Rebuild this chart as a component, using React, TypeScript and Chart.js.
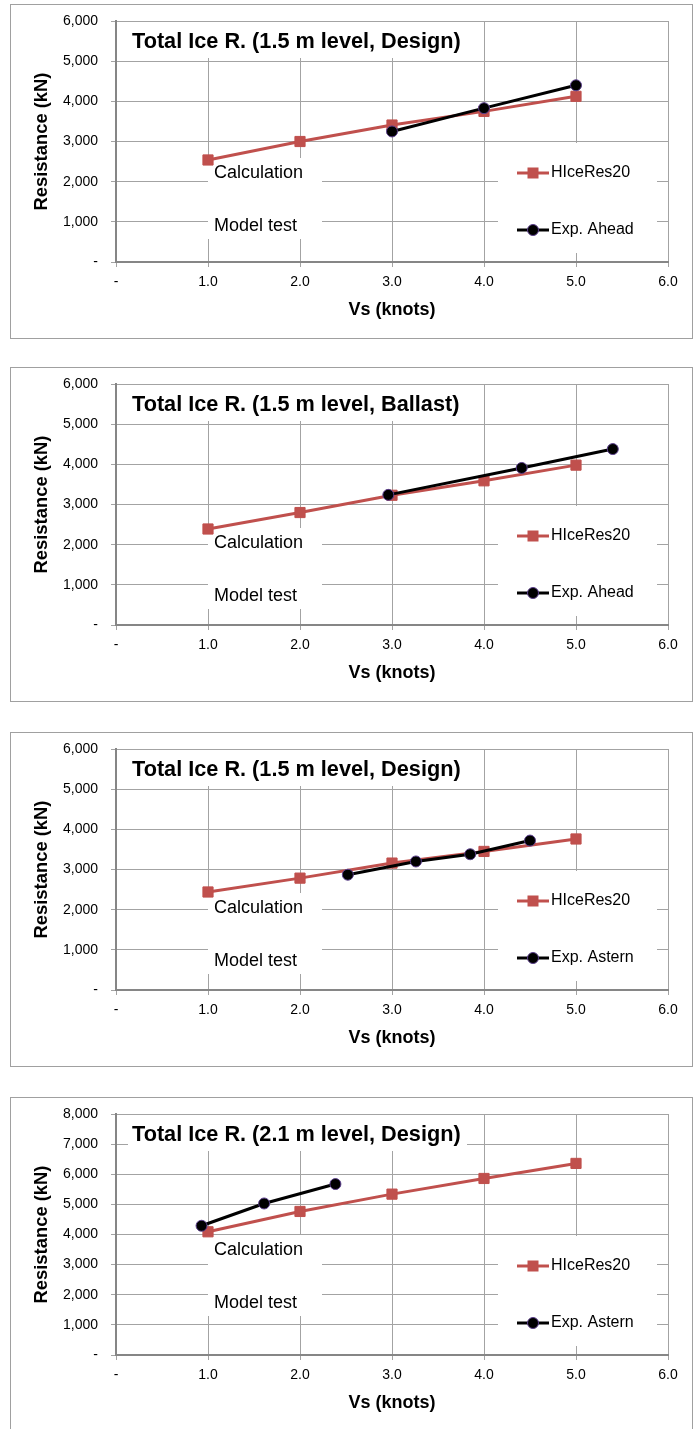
import React, { useEffect, useRef } from 'react';
import { Chart, registerables } from 'chart.js';

Chart.register(...registerables);

// ---------- data ----------
const calcSpeeds = [1, 2, 3, 4, 5];

// Chart 1: 1.5 m level, Design, ahead
const calcDesignAhead = [2540, 3000, 3410, 3750, 4125];
const expDesignAheadX = [3.0, 4.0, 5.0];
const expDesignAheadY = [3250, 3830, 4400];

// Chart 2: 1.5 m level, Ballast, ahead
const calcBallastAhead = [2390, 2800, 3230, 3590, 3980];
const expBallastAheadX = [2.96, 4.41, 5.4];
const expBallastAheadY = [3240, 3910, 4380];

// Chart 3: 1.5 m level, Design, astern
const calcDesignAstern = [2440, 2785, 3160, 3450, 3760];
const expDesignAsternX = [2.52, 3.26, 3.85, 4.5];
const expDesignAsternY = [2870, 3200, 3380, 3720];

// Chart 4: 2.1 m level, Design, astern
const calcDesign21Astern = [4090, 4765, 5340, 5860, 6360];
const expDesign21AsternX = [0.93, 1.61, 2.385];
const expDesign21AsternY = [4290, 5030, 5675];

const titles = [
  'Total Ice R. (1.5 m level, Design)',
  'Total Ice R. (1.5 m level, Ballast)',
  'Total Ice R. (1.5 m level, Design)',
  'Total Ice R. (2.1 m level, Design)',
];
const calcLabel = 'HIceRes20';
const expLabels = ['Exp. Ahead', 'Exp. Ahead', 'Exp. Astern', 'Exp. Astern'];
const yMaxes = [6000, 6000, 6000, 8000];
const xAxisTitle = 'Vs (knots)';
const yAxisTitle = 'Resistance (kN)';
const noteTexts = ['Calculation', 'Model test'];

const RED = '#C0504D';
const FONT = '"Liberation Sans", Arial, sans-serif';

interface Panel {
  title: string;
  yMax: number;
  calc: number[];
  expX: number[];
  expY: number[];
  expLabel: string;
  noteY: number; // relative to chart-area top
  boxTop: number;
}

const panels: Panel[] = [
  { title: titles[0], yMax: yMaxes[0], calc: calcDesignAhead, expX: expDesignAheadX, expY: expDesignAheadY, expLabel: expLabels[0], noteY: 152, boxTop: 4 },
  { title: titles[1], yMax: yMaxes[1], calc: calcBallastAhead, expX: expBallastAheadX, expY: expBallastAheadY, expLabel: expLabels[1], noteY: 159, boxTop: 367 },
  { title: titles[2], yMax: yMaxes[2], calc: calcDesignAstern, expX: expDesignAsternX, expY: expDesignAsternY, expLabel: expLabels[2], noteY: 159, boxTop: 732 },
  { title: titles[3], yMax: yMaxes[3], calc: calcDesign21Astern, expX: expDesign21AsternX, expY: expDesign21AsternY, expLabel: expLabels[3], noteY: 136, boxTop: 1097 },
];

const overlayPlugin = {
  id: 'overlay',
  beforeDatasetsDraw(chart: any, _args: any, opts: any) {
    const { ctx, chartArea } = chart;
    const L = chartArea.left;
    const T = chartArea.top;
    const calcY = T + opts.noteY;
    const modelY = calcY + 53;
    ctx.save();
    ctx.fillStyle = '#ffffff';
    // title panel
    ctx.fillRect(L + 12, T + 1, 339, 36);
    // note panel
    ctx.fillRect(L + 92, calcY - 15, 114, modelY + 13 - (calcY - 15));
    // legend panel
    ctx.fillRect(L + 382, T + 122, 159, 110);

    ctx.fillStyle = '#000';
    ctx.textBaseline = 'middle';
    ctx.textAlign = 'left';
    ctx.font = `bold 21.7px ${FONT}`;
    ctx.fillText(opts.title, L + 16, T + 21);
    ctx.font = `18px ${FONT}`;
    ctx.fillText(noteTexts[0], L + 98, calcY);
    ctx.fillText(noteTexts[1], L + 98, modelY);

    // legend
    const y1 = T + 152;
    const y2 = T + 209;
    const x0 = L + 401;
    const x1 = L + 433;
    const xm = L + 417;
    ctx.lineWidth = 3;
    ctx.strokeStyle = RED;
    ctx.beginPath();
    ctx.moveTo(x0, y1);
    ctx.lineTo(x1, y1);
    ctx.stroke();
    ctx.fillStyle = RED;
    ctx.fillRect(xm - 5.5, y1 - 5.5, 11, 11);
    ctx.strokeStyle = '#000';
    ctx.beginPath();
    ctx.moveTo(x0, y2);
    ctx.lineTo(x1, y2);
    ctx.stroke();
    ctx.beginPath();
    ctx.arc(xm, y2, 5.5, 0, Math.PI * 2);
    ctx.fillStyle = '#000';
    ctx.fill();
    ctx.lineWidth = 1;
    ctx.strokeStyle = '#5b3f8c';
    ctx.stroke();

    ctx.fillStyle = '#000';
    ctx.font = `16px ${FONT}`;
    ctx.fillText(calcLabel, L + 435, y1);
    ctx.fillText(opts.expLabel, L + 435, y2);
    ctx.restore();
  },
};

function ResistanceChart({ panel }: { panel: Panel }) {
  const ref = useRef<HTMLCanvasElement | null>(null);
  useEffect(() => {
    if (!ref.current) return;
    const calcData = calcSpeeds.map((x, i) => ({ x, y: panel.calc[i] }));
    const expData = panel.expX.map((x, i) => ({ x, y: panel.expY[i] }));
    const chart = new Chart(ref.current, {
      type: 'scatter',
      data: {
        datasets: [
          {
            label: panel.expLabel,
            data: expData,
            showLine: true,
            borderColor: '#000',
            borderWidth: 3,
            pointStyle: 'circle',
            pointRadius: 5.5,
            pointBorderWidth: 1,
            pointBackgroundColor: '#000',
            pointBorderColor: '#5b3f8c',
            order: 0,
          },
          {
            label: calcLabel,
            data: calcData,
            showLine: true,
            borderColor: RED,
            borderWidth: 3,
            pointStyle: 'rect',
            pointRadius: 7.2,
            pointBorderWidth: 1,
            pointBackgroundColor: RED,
            pointBorderColor: RED,
            order: 1,
          },
        ],
      },
      options: {
        responsive: false,
        animation: false,
        events: [],
        layout: { padding: { top: 16, right: 24, left: 0, bottom: 0 } },
        plugins: {
          legend: { display: false },
          tooltip: { enabled: false },
          overlay: { title: panel.title, expLabel: panel.expLabel, noteY: panel.noteY },
        } as any,
        scales: {
          x: {
            type: 'linear',
            min: 0,
            max: 6,
            afterFit: (s: any) => {
              s.height = 76;
              s.paddingLeft = 8;
              s.paddingRight = 12;
            },
            ticks: {
              stepSize: 1,
              padding: 7,
              color: '#000',
              font: { family: FONT, size: 14 },
              callback: (v: any) => (Number(v) === 0 ? '-' : Number(v).toFixed(1)),
            },
            grid: { color: '#a3a3a3', lineWidth: 1, tickLength: 5 },
            border: { color: '#868686', width: 2 },
            title: {
              display: true,
              text: xAxisTitle,
              color: '#000',
              font: { family: FONT, size: 18, weight: 'bold' },
              padding: { top: 0, bottom: 17 },
            },
          },
          y: {
            type: 'linear',
            min: 0,
            max: panel.yMax,
            afterFit: (s: any) => {
              s.width = 105;
              s.paddingTop = 8;
              s.paddingBottom = 8;
            },
            ticks: {
              stepSize: 1000,
              padding: 13,
              color: '#000',
              font: { family: FONT, size: 14 },
              callback: (v: any) => (Number(v) === 0 ? '-' : Number(v).toLocaleString('en-US')),
            },
            grid: { color: '#a3a3a3', lineWidth: 1, tickLength: 5 },
            border: { color: '#868686', width: 2 },
            title: {
              display: true,
              text: yAxisTitle,
              color: '#000',
              font: { family: FONT, size: 18.4, weight: 'bold' },
              padding: { top: 20, bottom: 0 },
            },
          },
        },
      },
      plugins: [overlayPlugin],
    } as any);
    return () => chart.destroy();
  }, [panel]);

  return (
    <div
      style={{
        position: 'absolute',
        left: 10,
        top: panel.boxTop,
        width: 681,
        height: 333,
        border: '1px solid #a0a0a0',
        background: '#fff',
      }}
    >
      <canvas ref={ref} width={681} height={333} style={{ display: 'block' }} />
    </div>
  );
}

export default function App() {
  return (
    <div
      style={{
        position: 'absolute',
        left: 0,
        top: 0,
        width: 694,
        height: 1429,
        overflow: 'hidden',
        background: '#fff',
      }}
    >
      {panels.map((p, i) => (
        <ResistanceChart key={i} panel={p} />
      ))}
    </div>
  );
}
